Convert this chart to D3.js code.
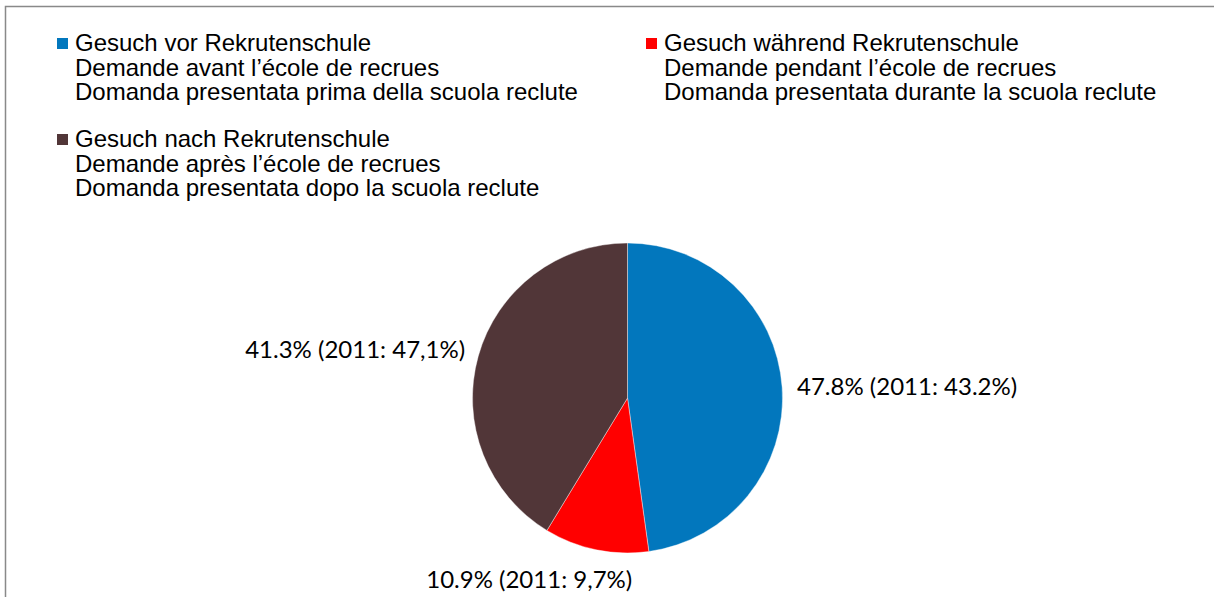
<!DOCTYPE html>
<html>
<head>
<meta charset="utf-8">
<script src="https://cdn.jsdelivr.net/npm/d3@7"></script>
<style>
  body { margin: 0; background: #fff; }
  svg { display: block; }
</style>
</head>
<body>
<div id="chart"></div>
<script>
// chart data
var namesDe = ["Gesuch vor Rekrutenschule", "Gesuch während Rekrutenschule", "Gesuch nach Rekrutenschule"];
var namesFr = ["Demande avant l’école de recrues", "Demande pendant l’école de recrues", "Demande après l’école de recrues"];
var namesIt = ["Domanda presentata prima della scuola reclute", "Domanda presentata durante la scuola reclute", "Domanda presentata dopo la scuola reclute"];
var shares = [47.8, 10.9, 41.3];
var shareLabels = ["47.8%", "10.9%", "41.3%"];
var prevLabels = ["43.2%", "9,7%", "47,1%"];
var colors = ["#0277bd", "#ff0000", "#513638"];

var svgWidth = 1214;
var svgHeight = 597;

var svg = d3.select("#chart")
  .append("svg")
  .attr("width", svgWidth)
  .attr("height", svgHeight);

// outer frame (right and bottom edges fall outside the picture)
svg.append("rect")
  .attr("x", 5.5)
  .attr("y", 6.5)
  .attr("width", svgWidth + 20)
  .attr("height", svgHeight + 20)
  .attr("fill", "none")
  .attr("stroke", "#898989")
  .attr("stroke-width", 1.5);

// legend
var legendPos = [{x: 57, y: 38}, {x: 646, y: 38}, {x: 57, y: 134}];
var lineGap = 24.5;

var legend = svg.append("g").attr("class", "legend");
var items = legend.selectAll("g")
  .data(d3.range(namesDe.length))
  .enter()
  .append("g")
  .attr("transform", i => `translate(${legendPos[i].x}, ${legendPos[i].y})`);

items.append("rect")
  .attr("width", 11)
  .attr("height", 11)
  .attr("fill", i => colors[i]);

var lt = items.append("text")
  .attr("font-family", "'Liberation Sans', Arial, sans-serif")
  .attr("font-size", "24px")
  .attr("fill", "#000");

lt.selectAll("tspan")
  .data(i => [namesDe[i], namesFr[i], namesIt[i]])
  .enter()
  .append("tspan")
  .attr("x", 18)
  .attr("y", (d, j) => 13 + j * lineGap)
  .text(d => d);

// pie
var cx = 627.5, cy = 398, radius = 155;

var pie = d3.pie().sort(null).value(d => d);
var arc = d3.arc().innerRadius(0).outerRadius(radius);
var arcs = pie(shares);

var pieGroup = svg.append("g")
  .attr("transform", `translate(${cx}, ${cy})`);

pieGroup.selectAll("path")
  .data(arcs)
  .enter()
  .append("path")
  .attr("d", arc)
  .attr("fill", (d, i) => colors[i])
  .attr("stroke", "#fff")
  .attr("stroke-width", 0.4);

// labels outside the pie, box placed around the anchor point by angle
var labelR = 170;
var labels = pieGroup.selectAll("text.lbl")
  .data(arcs)
  .enter()
  .append("text")
  .attr("class", "lbl")
  .attr("font-family", "Lato, 'Open Sans', sans-serif")
  .attr("font-size", "24px")
  .attr("fill", "#000")
  .text((d, i) => `${shareLabels[i]} (2011: ${prevLabels[i]})`);

labels.each(function(d) {
  var a = (d.startAngle + d.endAngle) / 2;
  var s = Math.sin(a), c = Math.cos(a);
  var px = labelR * s;
  var py = -labelR * c;
  var box = this.getBBox();
  var fx = (1 - Math.sign(s) * Math.pow(Math.abs(s), 0.3)) / 2;
  var fy = (1 + c) / 2;
  var left = px - fx * box.width;
  var top = py - fy * box.height;
  d3.select(this)
    .attr("x", left)
    .attr("y", top - box.y);
});
</script>
</body>
</html>
